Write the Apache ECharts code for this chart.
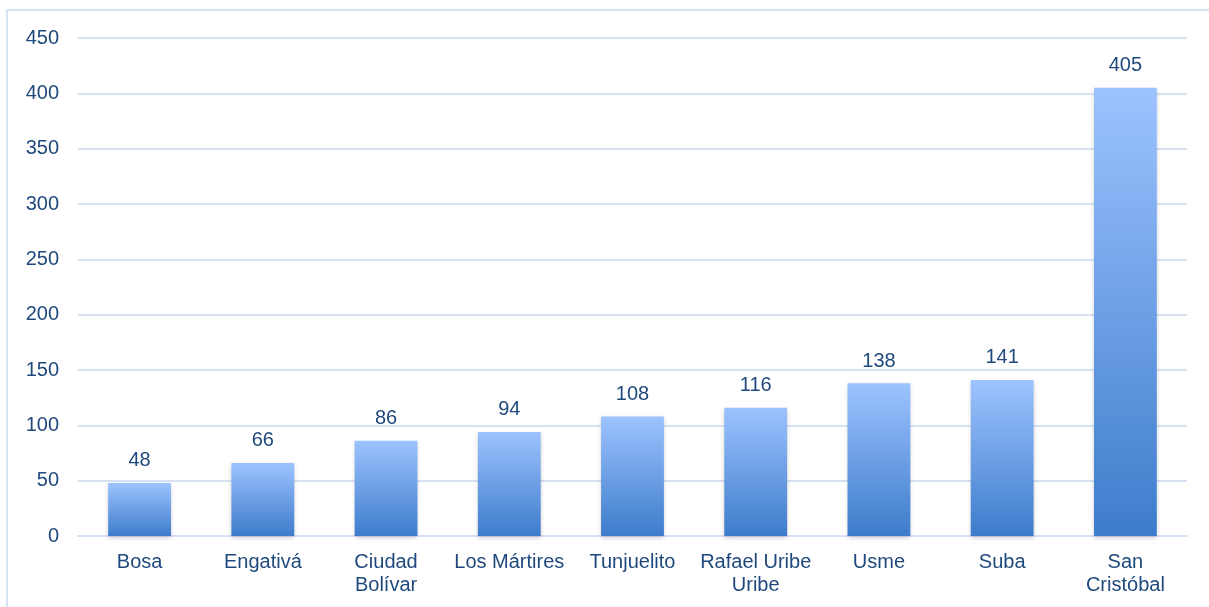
<!DOCTYPE html>
<html><head><meta charset="utf-8">
<script src="https://cdn.jsdelivr.net/npm/echarts@6/dist/echarts.min.js"></script>
<style>html,body{margin:0;padding:0;background:#fff}#c{width:1209px;height:607px}</style>
</head><body><div id="c"></div>
<script>
const categories = ['Bosa','Engativá','Ciudad\nBolívar','Los Mártires','Tunjuelito','Rafael Uribe\nUribe','Usme','Suba','San\nCristóbal'];
const values = [48,66,86,94,108,116,138,141,405];
const yTicks = {min:0,max:450,interval:50};
const chart = echarts.init(document.getElementById('c'));
const textColor = '#1F497D';
chart.setOption({
  animation:false,
  graphic:[{type:'rect',shape:{x:7,y:10,width:1220,height:620},style:{fill:'none',stroke:'#D6E3F5',lineWidth:2},silent:true}],
  grid:{left:78,right:22,top:38,bottom:71},
  xAxis:{type:'category',data:categories,
    axisLine:{show:true,lineStyle:{color:'#D6E2F4',width:2}},axisTick:{show:false},
    axisLabel:{color:textColor,fontFamily:'Liberation Sans, Arial',fontSize:20,margin:15,lineHeight:23,interval:0}},
  yAxis:{type:'value',min:yTicks.min,max:yTicks.max,interval:yTicks.interval,
    axisLine:{show:false},axisTick:{show:false},
    splitLine:{lineStyle:{color:'#D6E2F4',width:2}},
    axisLabel:{color:textColor,fontFamily:'Liberation Sans, Arial',fontSize:20,margin:19}},
  series:[{type:'bar',data:values,barWidth:'51%',
    itemStyle:{color:new echarts.graphic.LinearGradient(0,0,0,1,[{offset:0,color:'#9DC3FF'},{offset:1,color:'#3D7CCB'}]),
      shadowColor:'rgba(0,0,0,0.18)',shadowBlur:4,shadowOffsetY:2},
    label:{show:true,position:'top',distance:12,color:textColor,fontFamily:'Liberation Sans, Arial',fontSize:20}}]
});
</script></body></html>
